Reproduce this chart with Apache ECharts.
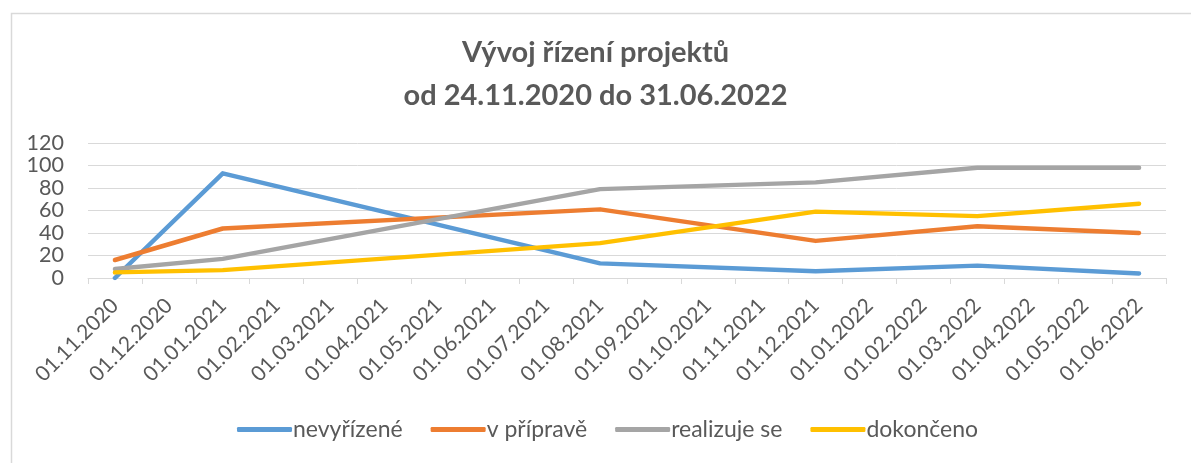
<!DOCTYPE html>
<html>
<head>
<meta charset="utf-8">
<script src="https://cdn.jsdelivr.net/npm/echarts@6/dist/echarts.min.js"></script>
<style>
  * { margin: 0; padding: 0; }
  html, body { width: 1191px; height: 463px; background: #fff; }
  #chart { width: 1191px; height: 463px; }
</style>
</head>
<body>
<div id="chart"></div>
<script>
// mesíce na ose (Excel datumová osa, základní jednotka měsíc)
var months = ['01.11.2020', '01.12.2020', '01.01.2021', '01.02.2021', '01.03.2021',
  '01.04.2021', '01.05.2021', '01.06.2021', '01.07.2021', '01.08.2021', '01.09.2021',
  '01.10.2021', '01.11.2021', '01.12.2021', '01.01.2022', '01.02.2022', '01.03.2022',
  '01.04.2022', '01.05.2022', '01.06.2022'];

// hodnoty jen v měsících, kdy se stav zaznamenal
var nevyrizene = [0, null, 93, null, null, null, null, null, null, 13, null, null, null, 6, null, null, 11, null, null, 4];
var vPriprave = [16, null, 44, null, null, null, null, null, null, 61, null, null, null, 33, null, null, 46, null, null, 40];
var realizujeSe = [8, null, 17, null, null, null, null, null, null, 79, null, null, null, 85, null, null, 98, null, null, 98];
var dokonceno = [5, null, 7, null, null, null, null, null, null, 31, null, null, null, 59, null, null, 55, null, null, 66];

var yTicks = [0, 20, 40, 60, 80, 100, 120];

var font = 'Lato, "Open Sans", sans-serif';
var textColor = '#595959';
var gridColor = '#d9d9d9';

var chart = echarts.init(document.getElementById('chart'), null, { renderer: 'canvas' });

function lineSerie(name, data, color) {
  return {
    name: name,
    type: 'line',
    data: data,
    connectNulls: true,
    symbol: 'none',
    lineStyle: { color: color, width: 4.5, cap: 'round', join: 'round' },
    itemStyle: { color: color }
  };
}

chart.setOption({
  animation: false,
  backgroundColor: '#fff',
  textStyle: { fontFamily: font },
  graphic: [{
    type: 'rect',
    left: 9, top: 11,
    shape: { width: 1200, height: 470 },
    style: { fill: 'none', stroke: gridColor, lineWidth: 1.5 },
    silent: true
  }],
  title: {
    text: 'Vývoj řízení projektů\nod 24.11.2020 do 31.06.2022',
    left: 'center',
    top: 26,
    textStyle: {
      fontFamily: font,
      fontSize: 29,
      fontWeight: 'bold',
      color: textColor,
      lineHeight: 43
    }
  },
  legend: {
    bottom: 17,
    left: 232,
    icon: 'roundRect',
    itemWidth: 55,
    itemHeight: 5,
    itemGap: 28,
    textStyle: { fontFamily: font, fontSize: 23, color: textColor, padding: [0, 0, 0, -4] },
    data: ['nevyřízené', 'v přípravě', 'realizuje se', 'dokončeno']
  },
  grid: { left: 88, right: 25, top: 143, bottom: 185, containLabel: false },
  xAxis: {
    type: 'category',
    data: months,
    boundaryGap: true,
    axisLine: { lineStyle: { color: gridColor, width: 1 } },
    axisTick: { show: true, length: 6, lineStyle: { color: gridColor } },
    axisLabel: { rotate: 45, interval: 0, margin: 24, fontFamily: font, fontSize: 21, color: textColor },
    splitLine: { show: false }
  },
  yAxis: {
    type: 'value',
    min: yTicks[0],
    max: yTicks[yTicks.length - 1],
    interval: yTicks[1] - yTicks[0],
    axisLine: { show: false },
    axisTick: { show: false },
    axisLabel: { margin: 24, fontFamily: font, fontSize: 21.5, color: textColor },
    splitLine: { lineStyle: { color: gridColor, width: 1 } }
  },
  series: [
    lineSerie('nevyřízené', nevyrizene, '#5b9bd5'),
    lineSerie('v přípravě', vPriprave, '#ed7d31'),
    lineSerie('realizuje se', realizujeSe, '#a5a5a5'),
    lineSerie('dokončeno', dokonceno, '#ffc000')
  ]
});
</script>
</body>
</html>
